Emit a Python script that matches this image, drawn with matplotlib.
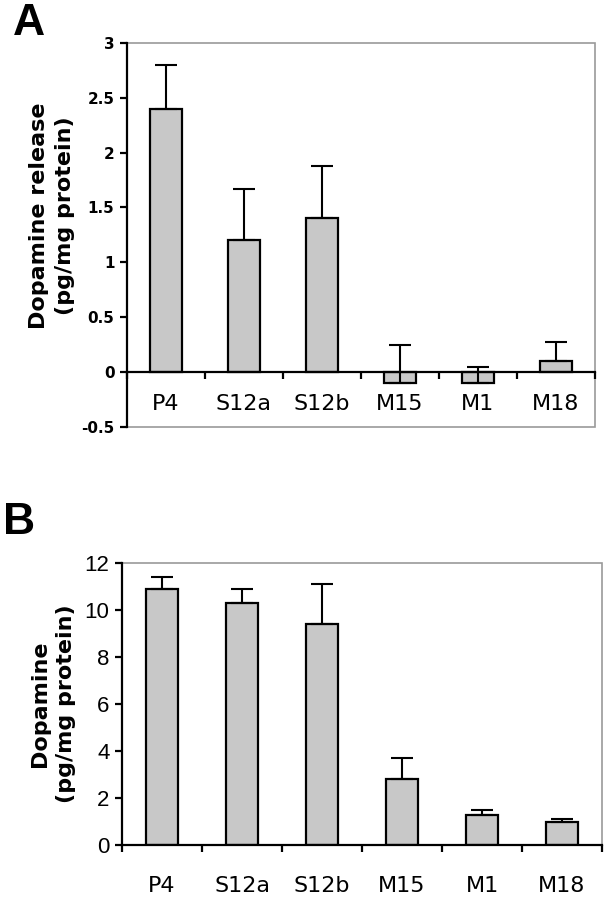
import numpy as np
import matplotlib.pyplot as plt
from matplotlib.ticker import FixedLocator

categories = ["P4", "S12a", "S12b", "M15", "M1", "M18"]

# (A) dopamine release
release = [2.4, 1.2, 1.4, -0.1, -0.1, 0.1]
release_err = [0.4, 0.47, 0.48, 0.35, 0.15, 0.17]
release_ticks = [-0.5, 0, 0.5, 1, 1.5, 2, 2.5, 3]
release_ticklabels = ["-0.5", "0", "0.5", "1", "1.5", "2", "2.5", "3"]

# (B) dopamine content
content = [10.9, 10.3, 9.4, 2.8, 1.3, 1.0]
content_err = [0.5, 0.6, 1.7, 0.9, 0.2, 0.1]
content_ticks = [0, 2, 4, 6, 8, 10, 12]

BAR_COLOR = "#c8c8c8"
BORDER = "#9a9a9a"

fig = plt.figure(figsize=(6.09, 8.99), dpi=100)
axA = fig.add_axes([0.2085, 0.525, 0.7685, 0.4275])
axB = fig.add_axes([0.2005, 0.0600, 0.7880, 0.3137])

x = np.arange(len(categories))


def draw_panel(ax, vals, errs, ylim, label_pad):
    ax.bar(x, vals, width=0.40, color=BAR_COLOR, edgecolor="black",
           linewidth=1.6, zorder=2)
    ax.errorbar(x, vals, yerr=[np.zeros(len(errs)), errs], fmt="none",
                ecolor="black", elinewidth=1.5, capsize=8, capthick=1.5,
                zorder=3)
    ax.set_xlim(-0.5, len(categories) - 0.5)
    ax.set_ylim(*ylim)

    # gray plot-area frame, black axis lines
    ax.patch.set_edgecolor(BORDER)
    ax.patch.set_linewidth(1.2)
    for s in ("top", "right"):
        ax.spines[s].set_visible(False)
    ax.spines["left"].set_linewidth(1.6)
    ax.spines["bottom"].set_linewidth(1.6)
    ax.spines["bottom"].set_position(("data", 0))

    ax.xaxis.set_major_locator(FixedLocator(x))
    ax.xaxis.set_minor_locator(FixedLocator(np.arange(len(categories) + 1) - 0.5))
    ax.set_xticklabels(categories, fontsize=16, family="DejaVu Sans")
    ax.tick_params(axis="x", which="major", length=0, pad=label_pad)
    ax.tick_params(axis="x", which="minor", length=5, width=1.6,
                   direction="out")
    ax.tick_params(axis="y", length=5, width=1.6, direction="out", pad=4)


draw_panel(axA, release, release_err, (-0.5, 3), 16)
axA.set_yticks(release_ticks)
axA.set_yticklabels(release_ticklabels, fontsize=11, fontweight="bold",
                    family=["Liberation Sans Narrow", "DejaVu Sans"])
axA.set_ylabel("Dopamine release\n(pg/mg protein)", fontsize=16,
               fontweight="bold", linespacing=1.35)
axA.yaxis.set_label_coords(-0.112, 0.55)

draw_panel(axB, content, content_err, (0, 12), 22)
axB.set_yticks(content_ticks)
axB.set_yticklabels([str(t) for t in content_ticks], fontsize=16,
                    family="Liberation Sans")
axB.set_ylabel("Dopamine\n(pg/mg protein)", fontsize=16,
               fontweight="bold", linespacing=1.35)
axB.yaxis.set_label_coords(-0.096, 0.5)

fig.text(0.021, 0.961, "A", fontsize=32, fontweight="bold",
         family="Liberation Sans", va="baseline")
fig.text(0.005, 0.406, "B", fontsize=32, fontweight="bold",
         family="Liberation Sans", va="baseline")

fig.savefig("out.png", dpi=100)
